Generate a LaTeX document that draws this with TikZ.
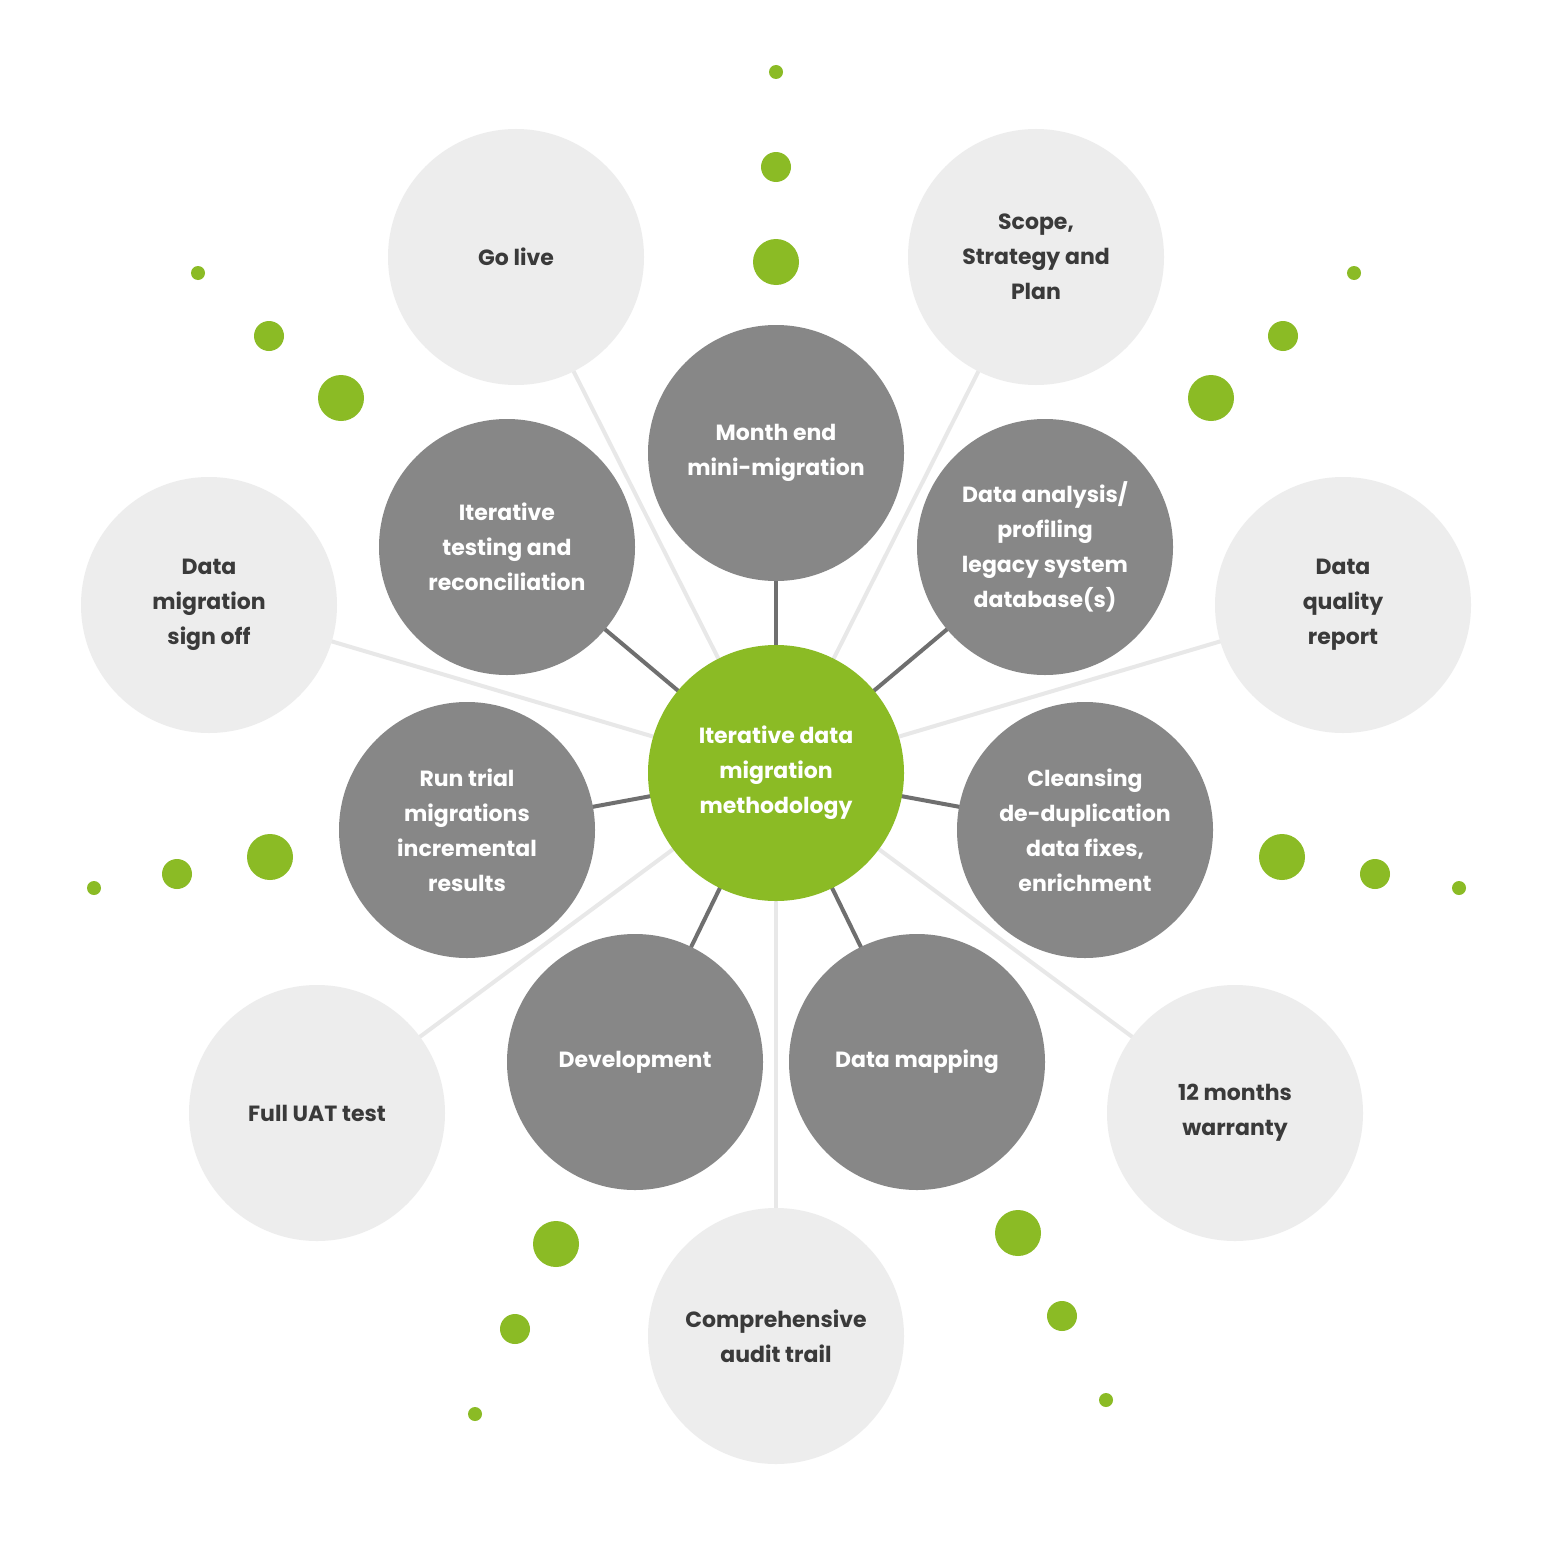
\documentclass[tikz,border=0pt]{standalone}
\usepackage{fontspec}
\setmainfont{Poppins}
\definecolor{grn}{HTML}{8BBB25}
\definecolor{drk}{HTML}{878787}
\definecolor{lgt}{HTML}{EDEDED}
\definecolor{txt}{HTML}{3A3A3A}
\definecolor{lline}{HTML}{E8E8E8}
\definecolor{dline}{HTML}{6F6F6F}
\begin{document}
\begin{tikzpicture}[x=1pt,y=-1pt,
  bub/.style={circle,minimum size=256pt,inner sep=0pt,align=center,font=\fontsize{22}{35}\selectfont\bfseries},
  darkb/.style={bub,fill=drk,text=white},
  lightb/.style={bub,fill=lgt,text=txt},
  ctr/.style={bub,fill=grn,text=white},
  ll/.style={draw=lline,line width=4pt},
  dl/.style={draw=dline,line width=4pt}]
\useasboundingbox (0,0) rectangle (1552,1552);
\fill[white] (0,0) rectangle (1552,1552);
\coordinate (c) at (776,773);
% light positions
\coordinate (pgo) at (516,257); \coordinate (psc) at (1036,257);
\coordinate (pdq) at (1343,605); \coordinate (pwa) at (1235,1113);
\coordinate (pau) at (776,1336); \coordinate (puat) at (317,1113);
\coordinate (pso) at (209,605);
\coordinate (pme) at (776,453); \coordinate (pda) at (1045,547);
\coordinate (pcl) at (1085,830); \coordinate (pdm) at (917,1062);
\coordinate (pdv) at (635,1062); \coordinate (prt) at (467,830);
\coordinate (pit) at (507,547);
\foreach \p in {pgo,psc,pdq,pwa,pau,puat,pso} \draw[ll] (c) -- (\p);
\foreach \p in {pme,pda,pcl,pdm,pdv,prt,pit} \draw[dl] (c) -- (\p);
\node[lightb] (go) at (pgo) {Go live};
\node[lightb] (sc) at (psc) {Scope,\\Strategy and\\Plan};
\node[lightb] (dq) at (pdq) {Data\\quality\\report};
\node[lightb] (wa) at (pwa) {12 months\\warranty};
\node[lightb] (au) at (pau) {Comprehensive\\audit trail};
\node[lightb] (uat) at (puat) {Full UAT test};
\node[lightb] (so) at (pso) {Data\\migration\\sign off};
\node[darkb] (me) at (pme) {Month end\\mini-migration};
\node[darkb] (da) at (pda) {Data analysis/\\profiling\\legacy system\\database(s)};
\node[darkb] (cl) at (pcl) {Cleansing\\de-duplication\\data fixes,\\enrichment};
\node[darkb] (dm) at (pdm) {Data mapping};
\node[darkb] (dv) at (pdv) {Development};
\node[darkb] (rt) at (prt) {Run trial\\migrations\\incremental\\results};
\node[darkb] (it) at (pit) {Iterative\\testing and\\reconciliation};
\node[ctr] (center) at (c) {Iterative data\\migration\\methodology};
\foreach \x/\y/\r in {776/72/7,776/167/15,776/262/23,
  198/273/7,269/336/15,341/398/23,
  1354/273/7,1283/336/15,1211/398/23,
  94/888/7,177/874/15,270/857/23,
  1459/888/7,1375/874/15,1282/857/23,
  475/1414/7,515/1329/15,556/1244/23,
  1106/1400/7,1062/1316/15,1018/1233/23}
  \fill[grn] (\x,\y) circle (\r);
\end{tikzpicture}
\end{document}
